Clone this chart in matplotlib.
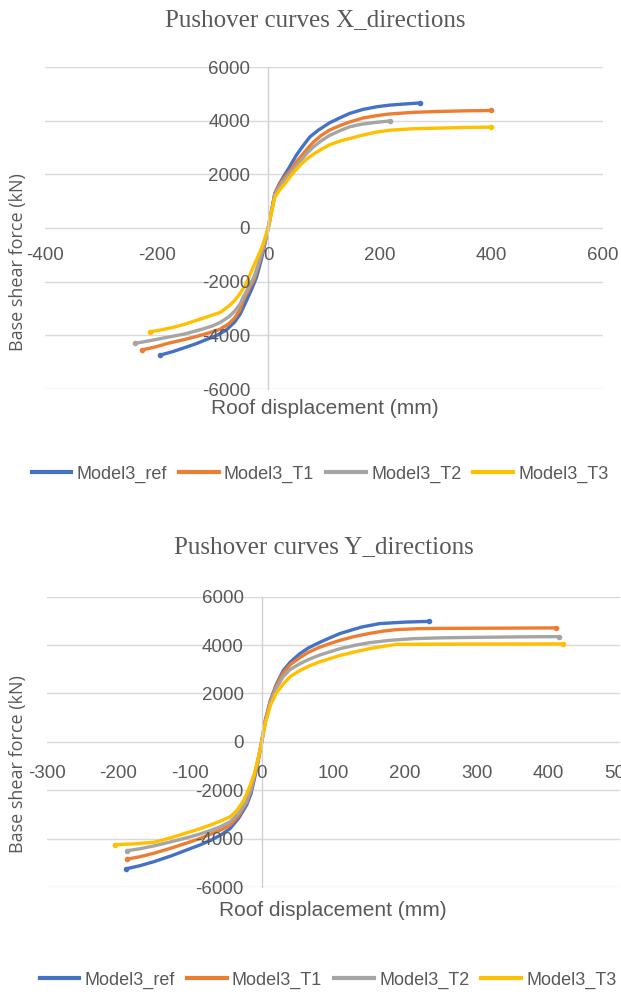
import matplotlib
matplotlib.use("Agg")
import matplotlib.pyplot as plt
from matplotlib.lines import Line2D

# ---------------- data ----------------
series_names = ["Model3_ref", "Model3_T1", "Model3_T2", "Model3_T3"]
series_colors = ["#4472C4", "#ED7D31", "#A5A5A5", "#FFC000"]

# X direction: roof displacement (mm) / base shear force (kN)
x_dir_ref_d = [-194, -170, -150, -130, -110, -90, -75, -60, -50, -39, -30, -21, -12, -5, 0,
               6, 12, 20, 30, 39, 50, 62, 75, 90, 110, 130, 146, 170, 195, 218, 250, 272]
x_dir_ref_f = [-4740, -4600, -4460, -4320, -4150, -3980, -3800, -3500, -3200, -2710, -2300, -1840, -1150, -500, 0,
               650, 1300, 1650, 2000, 2300, 2700, 3050, 3400, 3650, 3920, 4120, 4270, 4420, 4520, 4580, 4630, 4660]
x_dir_t1_d = [-227, -200, -180, -155, -130, -108, -86, -70, -60, -50, -45, -35, -25, -12, -5, 0,
              6, 12, 20, 30, 40, 50, 60, 70, 81, 95, 110, 130, 146, 170, 195, 218, 260, 300, 350, 400]
x_dir_t1_f = [-4550, -4420, -4300, -4180, -4050, -3920, -3770, -3560, -3350, -3020, -2710, -2300, -1900, -1000, -450, 0,
              640, 1280, 1600, 1900, 2150, 2450, 2700, 2950, 3200, 3450, 3650, 3830, 3950, 4100, 4190, 4250, 4310, 4340, 4365, 4380]
x_dir_t2_d = [-239, -220, -200, -175, -150, -120, -100, -86, -70, -60, -50, -45, -35, -25, -12, -5, 0,
              6, 12, 20, 30, 39, 50, 60, 70, 81, 95, 110, 130, 146, 165, 190, 218]
x_dir_t2_f = [-4300, -4230, -4150, -4050, -3950, -3780, -3650, -3520, -3300, -3100, -2820, -2585, -2200, -1800, -950, -420, 0,
              620, 1250, 1520, 1800, 2025, 2300, 2550, 2800, 3020, 3250, 3450, 3640, 3770, 3860, 3930, 3990]
x_dir_t3_d = [-212, -190, -170, -150, -130, -108, -86, -70, -60, -51, -40, -27, -18, -10, 0,
              6, 12, 20, 30, 39, 50, 60, 70, 78, 95, 110, 130, 146, 165, 190, 218, 260, 300, 350, 400]
x_dir_t3_f = [-3870, -3790, -3700, -3590, -3450, -3300, -3146, -2900, -2700, -2460, -2100, -1465, -1050, -650, 0,
              580, 1150, 1400, 1650, 1900, 2180, 2400, 2580, 2710, 2930, 3100, 3250, 3334, 3440, 3560, 3645, 3700, 3720, 3745, 3760]

# Y direction
y_dir_ref_d = [-189, -170, -150, -125, -100, -85, -70, -57, -44, -32, -21, -15, -10, -5, 0,
               5, 12, 20, 30, 40, 53, 65, 80, 95, 109, 125, 140, 165, 200, 234]
y_dir_ref_f = [-5250, -5120, -4950, -4700, -4417, -4250, -4050, -3850, -3583, -3150, -2608, -2150, -1500, -800, 0,
               900, 1700, 2350, 2945, 3300, 3640, 3880, 4100, 4300, 4475, 4620, 4750, 4890, 4950, 4980]
y_dir_t1_d = [-188, -170, -150, -125, -100, -85, -70, -57, -44, -32, -21, -15, -10, -5, 0,
              5, 12, 20, 30, 40, 53, 65, 80, 95, 109, 130, 150, 170, 188, 220, 250, 330, 410]
y_dir_t1_f = [-4850, -4750, -4600, -4380, -4137, -3980, -3800, -3640, -3441, -3050, -2500, -2000, -1400, -750, 0,
              850, 1650, 2300, 2850, 3200, 3475, 3700, 3900, 4060, 4195, 4360, 4480, 4580, 4640, 4680, 4690, 4700, 4710]
y_dir_t2_d = [-188, -170, -150, -125, -100, -85, -70, -57, -44, -32, -21, -15, -10, -5, 0,
              5, 12, 20, 30, 40, 53, 65, 80, 95, 109, 130, 150, 180, 211, 250, 300, 360, 414]
y_dir_t2_f = [-4500, -4420, -4300, -4120, -3930, -3800, -3650, -3500, -3300, -2950, -2450, -1950, -1350, -700, 0,
              800, 1600, 2200, 2700, 3000, 3225, 3400, 3580, 3720, 3850, 3990, 4100, 4200, 4265, 4300, 4320, 4340, 4350]
y_dir_t3_d = [-205, -180, -150, -125, -100, -85, -70, -57, -44, -35, -26, -18, -10, -5, 0,
              5, 12, 20, 30, 40, 53, 65, 80, 95, 109, 130, 150, 170, 188, 250, 330, 420]
y_dir_t3_f = [-4250, -4220, -4150, -3950, -3720, -3580, -3420, -3270, -3096, -2850, -2470, -1950, -1300, -700, 0,
              750, 1500, 2000, 2390, 2700, 2945, 3120, 3300, 3440, 3570, 3720, 3850, 3950, 4030, 4040, 4045, 4050]

titles = ["Pushover curves X_directions", "Pushover curves Y_directions"]
x_label = "Roof displacement (mm)"
y_label = "Base shear force (kN)"
x_ticks_top = [-400, -200, 0, 200, 400, 600]
x_ticks_bottom = [-300, -200, -100, 0, 100, 200, 300, 400, 500]
y_ticks = [-6000, -4000, -2000, 0, 2000, 4000, 6000]

# ---------------- styling ----------------
sans = "Liberation Sans"
serif = "Liberation Serif"
txt_color = "#595959"

W, H = 621, 1001
fig = plt.figure(figsize=(W / 100, H / 100), dpi=100)


def fx(px):
    return px / W


def fy(py):
    return 1 - py / H


def make_axes(left, right, top, bottom):
    return fig.add_axes([fx(left), fy(bottom), fx(right) - fx(left), fy(top) - fy(bottom)])


def style_axes(ax, xlim, xticks, xpad):
    ax.set_xlim(*xlim)
    ax.set_ylim(-6000, 6000)
    ax.set_xticks(xticks)
    ax.set_yticks(y_ticks)
    ax.set_xticklabels([str(t) for t in xticks])
    ax.set_yticklabels([str(t) for t in y_ticks])
    for s in ["top", "right", "bottom"]:
        ax.spines[s].set_visible(False)
    ax.spines["left"].set_position(("data", 0))
    ax.spines["left"].set_color("#d0d0d0")
    ax.spines["left"].set_linewidth(1.0)
    ax.spines["bottom"].set_position(("data", 0))
    ax.tick_params(axis="both", length=0, labelcolor=txt_color, labelsize=13.5)
    ax.tick_params(axis="y", pad=13)
    ax.tick_params(axis="x", pad=xpad)
    for lab in ax.get_xticklabels() + ax.get_yticklabels():
        lab.set_fontfamily(sans)
    for t in y_ticks:
        ax.axhline(t, color="#d9d9d9", lw=1.0, zorder=0.5)
    ax.set_axisbelow(False)
    ax.patch.set_alpha(0)


def draw(ax, data):
    for (d, f), c in zip(data, series_colors):
        ax.plot(d, f, color=c, lw=2.4, solid_capstyle="round", solid_joinstyle="round", zorder=2,
                marker="o", ms=3, markevery=[0, len(d) - 1])


# top chart
ax1 = make_axes(45, 603, 67, 389)
style_axes(ax1, (-400, 600), x_ticks_top, 14)
draw(ax1, [(x_dir_ref_d, x_dir_ref_f), (x_dir_t1_d, x_dir_t1_f),
           (x_dir_t2_d, x_dir_t2_f), (x_dir_t3_d, x_dir_t3_f)])

# bottom chart
ax2 = make_axes(46.6, 620.2, 596.7, 887)
style_axes(ax2, (-300, 500), x_ticks_bottom, 17)
draw(ax2, [(y_dir_ref_d, y_dir_ref_f), (y_dir_t1_d, y_dir_t1_f),
           (y_dir_t2_d, y_dir_t2_f), (y_dir_t3_d, y_dir_t3_f)])

# titles & labels
fig.text(fx(315), fy(20), titles[0], family=serif, fontsize=18, color=txt_color, ha="center", va="center")
fig.text(fx(324), fy(547), titles[1], family=serif, fontsize=18, color=txt_color, ha="center", va="center")
fig.text(fx(325), fy(409), x_label, family=sans, fontsize=15, color=txt_color, ha="center", va="center")
fig.text(fx(333), fy(911), x_label, family=sans, fontsize=15, color=txt_color, ha="center", va="center")
fig.text(fx(18), fy(262), y_label, family="Open Sans", fontsize=13, color=txt_color,
         ha="center", va="center", rotation=90)
fig.text(fx(18), fy(764), y_label, family="Open Sans", fontsize=13, color=txt_color,
         ha="center", va="center", rotation=90)

# legends
handles = [Line2D([0], [0], color=c, lw=3) for c in series_colors]
for cy, cx in [(474, 320), (980, 328)]:
    leg = fig.legend(handles, series_names, loc="center", bbox_to_anchor=(fx(cx), fy(cy)),
                     ncol=4, frameon=False, handlelength=2.2, handletextpad=0.3, columnspacing=0.65,
                     borderpad=0, borderaxespad=0, prop={"family": sans, "size": 13})
    for t in leg.get_texts():
        t.set_color(txt_color)

fig.savefig("out.png", dpi=100)
